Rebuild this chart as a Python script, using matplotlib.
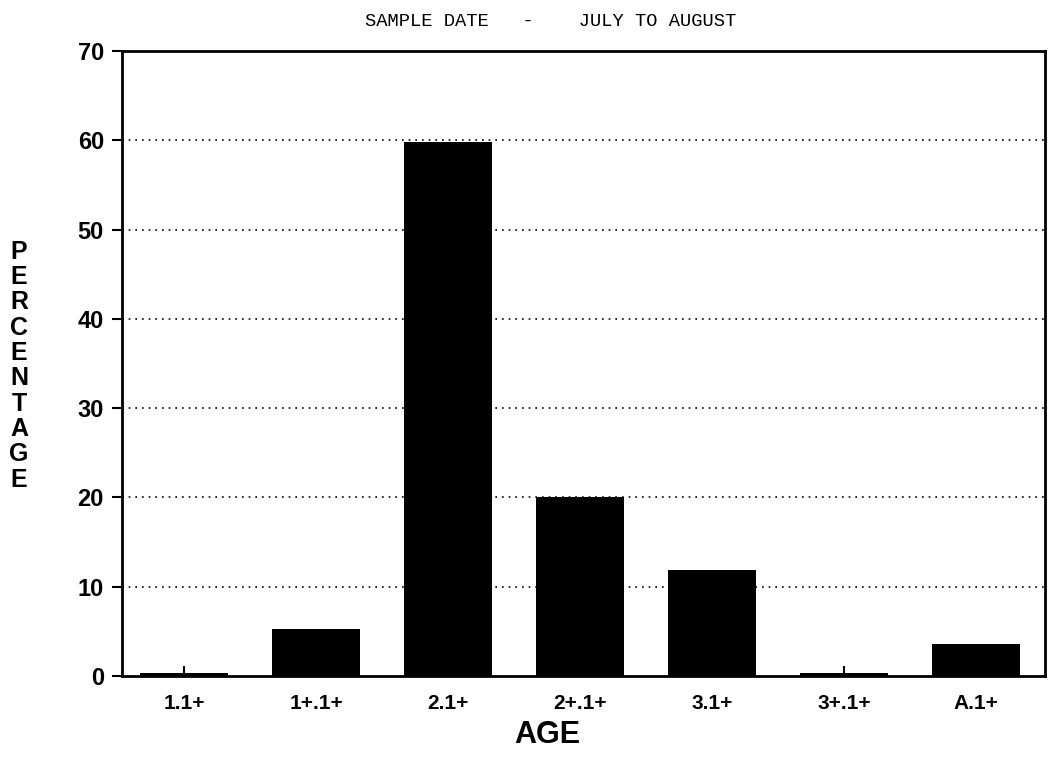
import numpy as np
import matplotlib.pyplot as plt

ages = ['1.1+', '1+.1+', '2.1+', '2+.1+', '3.1+', '3+.1+', 'A.1+']
percent = [0.3, 5.3, 59.8, 20.0, 11.9, 0.3, 3.6]
yticks = [0, 10, 20, 30, 40, 50, 60, 70]

fig = plt.figure(figsize=(10.49, 7.62), dpi=100)
ax = fig.add_axes([0.1163, 0.1129, 0.8797, 0.8201])

x = np.arange(len(ages))
ax.bar(x, percent, width=0.67, color='black', zorder=3)

ax.set_xlim(-0.47, 6.52)
ax.set_ylim(0, 70)
ax.set_yticks(yticks)
ax.set_xticks(x)
ax.set_xticklabels(ages, fontsize=15, fontweight='bold', family='Liberation Sans')
ax.set_yticklabels([str(v) for v in yticks], fontsize=17, fontweight='bold', family='Liberation Sans')
ax.tick_params(axis='x', direction='in', length=7, width=1.5, pad=13)
ax.tick_params(axis='y', direction='out', length=7, width=1.5, pad=6)

# dotted grid lines, not at 0 or 70
for v in yticks[1:-1]:
    ax.axhline(v, color='black', linestyle=(0, (1, 3)), linewidth=1.2, zorder=1)

for s in ax.spines.values():
    s.set_linewidth(2)

fig.text(0.525, 0.972, 'SAMPLE DATE   -    JULY TO AUGUST', ha='center', va='center',
         fontsize=13.5, family='Liberation Mono')
fig.text(0.522, 0.035, 'AGE', ha='center', va='center', fontsize=22,
         fontweight='bold', family='Liberation Sans')
fig.text(0.018, 0.52, '\n'.join('PERCENTAGE'), ha='center', va='center', fontsize=18,
         fontweight='bold', family='Liberation Sans', linespacing=1.07)

fig.savefig('out.png', dpi=100)
